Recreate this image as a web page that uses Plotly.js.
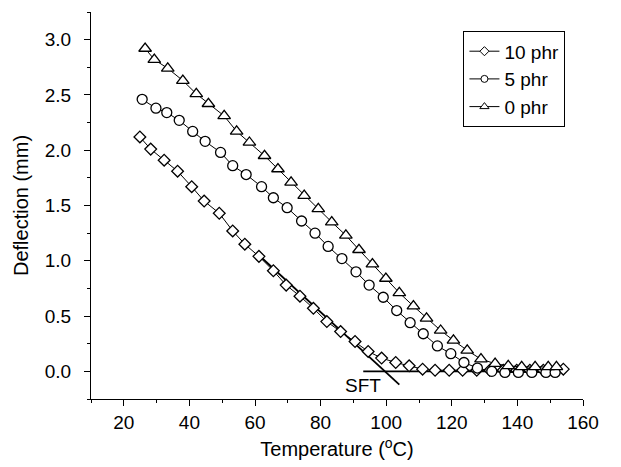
<!DOCTYPE html>
<html>
<head>
<meta charset="utf-8">
<script src="https://cdn.plot.ly/plotly-3.0.1.min.js"></script>
<style>html,body{margin:0;padding:0;background:#fff;}#chart{width:621px;height:467px;}</style>
</head>
<body>
<div id="chart"></div>
<script>
// Series: 10 phr (diamonds)
var temp10 = [24.9,28.2,32.3,36.4,40.7,44.5,49.1,53.2,56.9,61.2,65.6,69.5,73.7,77.8,81.9,86.1,90.5,94.5,98.6,102.9,107.0,111.1,114.9,119.2,123.3,127.6,131.6,135.7,139.8,143.8,147.9,152.0,154.0];
var defl10 = [2.12,2.01,1.91,1.81,1.67,1.54,1.43,1.27,1.15,1.04,0.91,0.78,0.68,0.57,0.45,0.36,0.27,0.18,0.12,0.08,0.05,0.02,0.01,0.01,0.01,0.01,0.01,0.01,0.01,0.01,0.01,0.01,0.02];
// Series: 5 phr (circles)
var temp5 = [25.6,29.8,33.1,36.9,41.0,44.8,49.5,53.2,57.3,62.0,65.6,69.8,74.2,78.3,82.3,86.5,90.8,94.8,99.1,103.2,107.3,111.3,115.6,119.7,123.7,127.8,132.2,136.2,140.3,144.4,148.7,151.5];
var defl5 = [2.46,2.38,2.34,2.27,2.17,2.08,1.98,1.86,1.78,1.67,1.57,1.48,1.36,1.25,1.13,1.02,0.90,0.78,0.67,0.55,0.44,0.34,0.23,0.16,0.08,0.03,0.00,-0.01,-0.01,-0.01,-0.01,-0.01];
// Series: 0 phr (triangles)
var temp0 = [26.5,29.3,33.4,38.0,42.1,45.8,50.6,54.4,58.3,62.9,67.0,71.0,75.0,79.3,83.4,87.7,91.7,95.8,99.9,104.0,108.3,112.3,116.6,120.5,124.7,128.9,133.2,137.2,141.3,145.4,149.4,151.9];
var defl0 = [2.92,2.82,2.74,2.63,2.51,2.42,2.31,2.17,2.07,1.95,1.83,1.71,1.59,1.47,1.35,1.23,1.10,0.97,0.84,0.71,0.59,0.48,0.37,0.28,0.19,0.11,0.07,0.05,0.04,0.04,0.04,0.04];
// SFT construction lines
var tangentT = [61.2, 104.0];
var tangentD = [1.05, -0.12];
var baseT = [93.0, 150.0];
var baseD = [0.0, 0.0];
var sftLabel = {text: 'SFT', t: 92.8, d: -0.13};
var xTicks = [20,40,60,80,100,120,140,160];
var seriesNames = ['10 phr','5 phr','0 phr'];

var FONT = 'Liberation Sans, Arial, Helvetica, sans-serif';
function series(x, y, name, sym, size) {
  return {
    x: x, y: y, name: name, type: 'scatter', mode: 'lines+markers', showlegend: false,
    line: {color: '#000', width: 1},
    marker: {symbol: sym, size: size, color: '#fff', line: {color: '#000', width: 1.3}}
  };
}
function legendEntry(name, sym, size) {
  return {
    x: [null], y: [null], name: name, type: 'scatter', mode: 'lines+markers', showlegend: true,
    line: {color: '#000', width: 1},
    marker: {symbol: sym, size: size, color: '#fff', line: {color: '#000', width: 1}}
  };
}
var data = [
  {x: tangentT, y: tangentD, type: 'scatter', mode: 'lines', line: {color: '#000', width: 1.8}, showlegend: false, hoverinfo: 'skip'},
  {x: baseT, y: baseD, type: 'scatter', mode: 'lines', line: {color: '#000', width: 1.8}, showlegend: false, hoverinfo: 'skip'},
  series(temp10, defl10, seriesNames[0], 'diamond', 9),
  series(temp5, defl5, seriesNames[1], 'circle', 10),
  series(temp0, defl0, seriesNames[2], 'triangle-up', 11),
  legendEntry(seriesNames[0], 'diamond', 7),
  legendEntry(seriesNames[1], 'circle', 7),
  legendEntry(seriesNames[2], 'triangle-up', 8)
];

var layout = {
  width: 621, height: 467,
  margin: {l: 91, r: 38, t: 12, b: 68},
  paper_bgcolor: '#fff', plot_bgcolor: '#fff',
  font: {family: FONT, size: 19, color: '#000'},
  showlegend: true,
  legend: {x: 0.757, y: 0.95, xanchor: 'left', yanchor: 'top', bordercolor: '#000', borderwidth: 1, bgcolor: '#fff', font: {family: FONT, size: 19}, tracegroupgap: 0, itemwidth: 30},
  xaxis: {
    range: [10, 160], tickvals: xTicks, showline: true, linecolor: '#000', linewidth: 1,
    ticks: 'outside', ticklen: 6, tickcolor: '#000', showgrid: false, zeroline: false,
    minor: {dtick: 10, tick0: 10, ticks: 'outside', ticklen: 3, tickcolor: '#000', showgrid: false},
    tickfont: {family: FONT, size: 19},
    title: {text: 'Temperature (<sup>o</sup>C)', font: {family: FONT, size: 20}, standoff: 10}
  },
  yaxis: {
    range: [-0.25, 3.25], tick0: 0, dtick: 0.5, tickformat: '.1f', showline: true, linecolor: '#000', linewidth: 1,
    ticks: 'outside', ticklen: 6, tickcolor: '#000', showgrid: false, zeroline: false,
    minor: {dtick: 0.25, tick0: 0, ticks: 'outside', ticklen: 3, tickcolor: '#000', showgrid: false},
    tickfont: {family: FONT, size: 19}, ticklabelstandoff: 9,
    title: {text: 'Deflection (mm)', font: {family: FONT, size: 20}, standoff: 10}
  },
  annotations: [{x: sftLabel.t, y: sftLabel.d, xref: 'x', yref: 'y', text: sftLabel.text, showarrow: false, font: {family: FONT, size: 19}}]
};
Plotly.newPlot('chart', data, layout, {displayModeBar: false, staticPlot: true});
</script>
</body>
</html>
